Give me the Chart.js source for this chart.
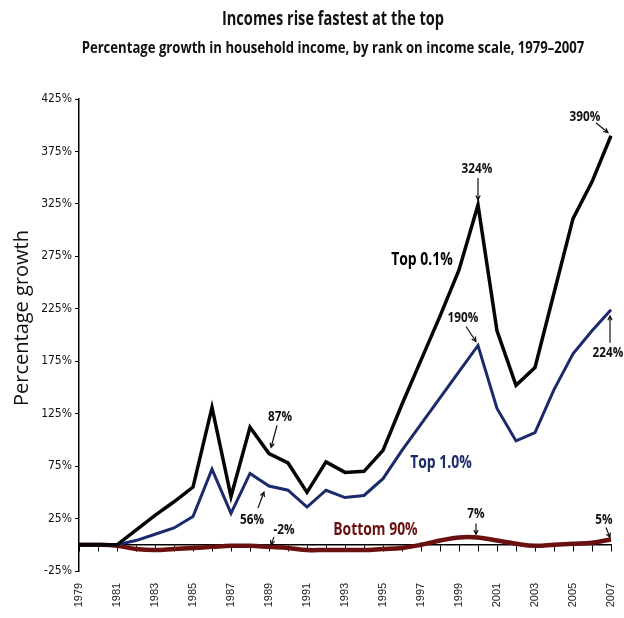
<!DOCTYPE html>
<html>
<head>
<meta charset="utf-8">
<title>Incomes rise fastest at the top</title>
<script src="https://cdn.jsdelivr.net/npm/chart.js@4.4.1/dist/chart.umd.min.js"></script>
<style>
  body { margin: 0; background: #fff; }
  #wrap { position: relative; width: 624px; height: 618px; overflow: hidden; }
  #wrap canvas { position: absolute; left: 0; top: 0; }
  .head {
    position: absolute; left: 21px; width: 624px; text-align: center;
    font-family: "Open Sans", sans-serif;
    font-weight: bold; color: #111; white-space: nowrap; z-index: 1;
  }
  #title { top: 6px; font-size: 19px; line-height: 24px; transform: scaleX(0.77); }
  #subtitle { top: 37px; font-size: 16px; line-height: 20px; transform: scaleX(0.82); }
</style>
</head>
<body>
<div id="wrap">
  <div class="head" id="title">Incomes rise fastest at the top</div>
  <div class="head" id="subtitle">Percentage growth in household income, by rank on income scale, 1979–2007</div>
  <canvas id="chart" width="624" height="618"></canvas>
</div>
<script>
const years = ["1979", "1980", "1981", "1982", "1983", "1984", "1985", "1986", "1987", "1988",
  "1989", "1990", "1991", "1992", "1993", "1994", "1995", "1996", "1997", "1998",
  "1999", "2000", "2001", "2002", "2003", "2004", "2005", "2006", "2007"];

// percentage growth since 1979
const top01 = [0, 0, 0, 14, 28, 41, 55, 131, 46, 112, 87, 78, 50, 79, 69, 70, 90, 134, 176, 218,
  262, 324, 204, 152, 169, 240, 311, 346, 390];
const top1 = [0, 0, 0, 4, 10, 16, 27, 72, 30, 68, 56, 52, 36, 52, 45, 47, 63, 90, 115, 140,
  165, 190, 130, 99, 107, 148, 182, 204, 224];
const bottom90 = [0, 0, -1, -4, -5, -4, -3, -2, -1, -1, -2, -3, -5, -5, -5, -5, -4, -3, 0, 4,
  7, 7, 4, 1, -1, 0, 1, 2, 5];

const yTicks = [-25, 25, 75, 125, 175, 225, 275, 325, 375, 425];

// callouts: dataset index, year, label offset, arrow from/to offsets (px from the point)
const callouts = [
  { text: "390%", ds: 0, year: "2007", lx: -26, ly: -19, from: [-15, -13], to: [-3, -3] },
  { text: "324%", ds: 0, year: "2000", lx: -1, ly: -36, from: [0, -27], to: [0, -5] },
  { text: "190%", ds: 1, year: "2000", lx: -15, ly: -27, from: [-12, -19], to: [-2, -4] },
  { text: "224%", ds: 1, year: "2007", lx: -3, ly: 43, from: [-1, 33], to: [-1, 6] },
  { text: "87%", ds: 0, year: "1989", lx: 11, ly: -37, from: [8, -28], to: [2, -6] },
  { text: "56%", ds: 1, year: "1989", lx: -17, ly: 34, from: [-11, 22], to: [-5, 6] },
  { text: "-2%", ds: 2, year: "1989", lx: 15, ly: -17, from: [5, -10], to: [2, -2] },
  { text: "7%", ds: 2, year: "2000", lx: -2, ly: -23, from: [-2, -14], to: [-2, -3] },
  { text: "5%", ds: 2, year: "2007", lx: -7, ly: -20, from: [-5, -12], to: [-1, -2] },
];

const seriesNames = [
  { text: "Top 0.1%", color: "#000000", at: 18.05, value: 271 },
  { text: "Top 1.0%", color: "#1b2a6b", at: 19.05, value: 78 },
  { text: "Bottom 90%", color: "#6b1010", at: 15.6, value: 14 },
];

function arrow(ctx, x1, y1, x2, y2) {
  const ang = Math.atan2(y2 - y1, x2 - x1);
  const h = 5;
  ctx.beginPath();
  ctx.moveTo(x1, y1);
  ctx.lineTo(x2, y2);
  ctx.moveTo(x2 - h * Math.cos(ang - 0.45), y2 - h * Math.sin(ang - 0.45));
  ctx.lineTo(x2, y2);
  ctx.lineTo(x2 - h * Math.cos(ang + 0.45), y2 - h * Math.sin(ang + 0.45));
  ctx.stroke();
}

// narrow text: the original uses a condensed face
function narrowText(ctx, text, x, y, sx) {
  ctx.save();
  ctx.translate(x, y);
  ctx.scale(sx, 1);
  ctx.fillText(text, 0, 0);
  ctx.restore();
}

const notesPlugin = {
  id: "notes",
  afterDatasetsDraw(chart) {
    const ctx = chart.ctx;
    const xs = chart.scales.x;
    const ys = chart.scales.y;
    ctx.save();
    ctx.textAlign = "center";
    ctx.textBaseline = "middle";

    ctx.font = "bold 14px 'Open Sans', sans-serif";
    ctx.strokeStyle = "#111";
    ctx.fillStyle = "#111";
    ctx.lineWidth = 1.2;
    callouts.forEach((c) => {
      const i = years.indexOf(c.year);
      const px = xs.getPixelForValue(i);
      const py = ys.getPixelForValue(chart.data.datasets[c.ds].data[i]);
      narrowText(ctx, c.text, px + c.lx, py + c.ly, 0.84);
      arrow(ctx, px + c.from[0], py + c.from[1], px + c.to[0], py + c.to[1]);
    });

    ctx.font = "bold 17px 'Open Sans', sans-serif";
    seriesNames.forEach((s) => {
      ctx.fillStyle = s.color;
      narrowText(ctx, s.text, xs.getPixelForValue(s.at), ys.getPixelForValue(s.value), 0.82);
    });

    // y axis title
    ctx.translate(22, 318);
    ctx.rotate(-Math.PI / 2);
    ctx.font = "20px 'Open Sans', sans-serif";
    ctx.fillStyle = "#111";
    ctx.fillText("Percentage growth", 0, 0);
    ctx.restore();
  },
};

new Chart(document.getElementById("chart"), {
  type: "line",
  data: {
    labels: years,
    datasets: [
      { label: "Top 0.1%", data: top01, borderColor: "#050505", borderWidth: 3.5 },
      { label: "Top 1.0%", data: top1, borderColor: "#1b2a6b", borderWidth: 3 },
      { label: "Bottom 90%", data: bottom90, borderColor: "#6b1010", borderWidth: 4.5, tension: 0.4 },
    ],
  },
  options: {
    responsive: false,
    animation: false,
    layout: { padding: { top: 99, right: 13, bottom: 47, left: 0 } },
    elements: { point: { radius: 0 }, line: { borderJoinStyle: "miter", borderCapStyle: "butt" } },
    plugins: { legend: { display: false }, tooltip: { enabled: false } },
    scales: {
      x: {
        position: { y: 0 },
        offset: false,
        afterFit: (scale) => {
          // labels hang below the zero line; they need no side padding
          scale.paddingLeft = 0;
          scale.paddingRight = 0;
        },
        border: { display: true, color: "#000", width: 1.5 },
        grid: { drawOnChartArea: false, drawTicks: true, tickLength: 6, color: "#000", lineWidth: 1 },
        ticks: {
          autoSkip: false,
          minRotation: 90,
          maxRotation: 90,
          padding: 32,
          color: "#222",
          font: { family: "'Liberation Sans', sans-serif", size: 11 },
          callback: (v, i) => (i % 2 === 0 ? years[i] : ""),
        },
      },
      y: {
        min: -25,
        max: 425,
        afterBuildTicks: (scale) => {
          scale.ticks = yTicks.map((v) => ({ value: v }));
        },
        afterFit: (scale) => {
          scale.width = 79;
        },
        border: { display: true, color: "#000", width: 1.5 },
        grid: { drawOnChartArea: false, drawTicks: true, tickLength: 4, color: "#000" },
        ticks: {
          padding: 3,
          color: "#111",
          font: { family: "'DejaVu Sans Condensed', 'Liberation Sans', sans-serif", size: 12 },
          callback: (v) => v + "%",
        },
      },
    },
  },
  plugins: [notesPlugin],
});
</script>
</body>
</html>
